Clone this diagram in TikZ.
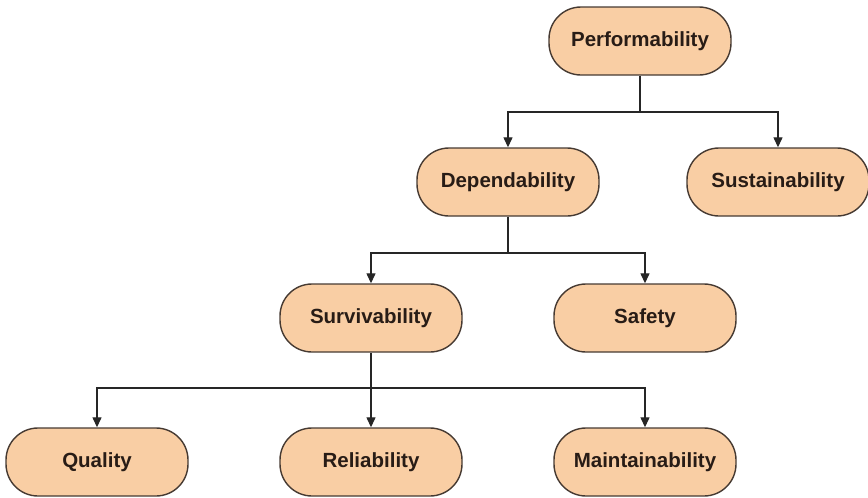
\documentclass[tikz,border=0pt]{standalone}
\usepackage{fontspec}
\setmainfont{Liberation Sans}
\usetikzlibrary{arrows.meta}
\definecolor{boxfill}{RGB}{249,206,164}
\definecolor{boxline}{RGB}{70,58,50}
\definecolor{txt}{RGB}{40,28,22}
\begin{document}
\begin{tikzpicture}[x=1pt,y=-1pt,
  pill/.style={draw=boxline, line width=1.4pt, fill=boxfill, rounded corners=32pt,
    minimum width=182pt, minimum height=68pt, inner sep=0pt,
    font=\fontsize{20.5}{23}\selectfont\bfseries, text=txt},
  conn/.style={draw=black!85, line width=1.3pt},
  arr/.style={conn, -{Triangle[length=10pt,width=9pt]}}]
\useasboundingbox (0,0) rectangle (868,498);
\node[pill] (perf) at (640,41) {Performability};
\node[pill] (dep) at (508,182) {Dependability};
\node[pill] (sus) at (778,182) {Sustainability};
\node[pill] (surv) at (371,318) {Survivability};
\node[pill] (saf) at (645,318) {Safety};
\node[pill] (qual) at (97,462) {Quality};
\node[pill] (rel) at (371,462) {Reliability};
\node[pill] (main) at (645,462) {Maintainability};
\coordinate (j1) at (640,112);
\coordinate (j2) at (508,253);
\coordinate (j3) at (371,388);
\draw[conn] (perf.south) -- (j1);
\draw[arr] (j1) -| (dep.north);
\draw[arr] (j1) -| (sus.north);
\draw[conn] (dep.south) -- (j2);
\draw[arr] (j2) -| (surv.north);
\draw[arr] (j2) -| (saf.north);
\draw[conn] (surv.south) -- (j3);
\draw[arr] (j3) -| (qual.north);
\draw[arr] (j3) -- (rel.north);
\draw[arr] (j3) -| (main.north);
\end{tikzpicture}
\end{document}
